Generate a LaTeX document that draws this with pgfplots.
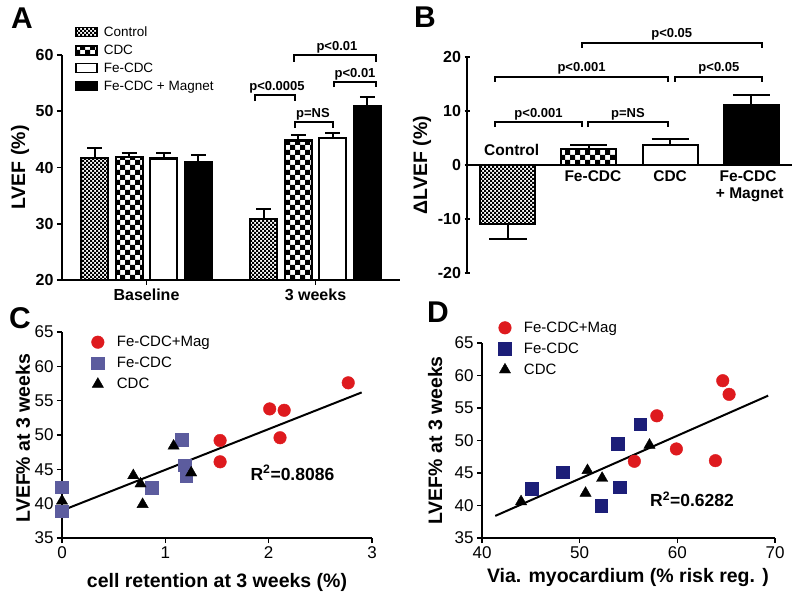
\documentclass[border=0pt]{standalone}
\usepackage{fontspec}
\setmainfont{Liberation Sans}
\usepackage{pgfplots}
\pgfplotsset{compat=1.18}
\usetikzlibrary{patterns}

% fine and coarse checkerboards for the bars
\pgfdeclarepatternformonly{smallchecker}{\pgfqpoint{-.1pt}{-.1pt}}{\pgfqpoint{4.1pt}{4.1pt}}{\pgfqpoint{4pt}{4pt}}{%
  \pgfpathrectangle{\pgfqpoint{0pt}{0pt}}{\pgfqpoint{2.05pt}{2.05pt}}%
  \pgfpathrectangle{\pgfqpoint{2pt}{2pt}}{\pgfqpoint{2.05pt}{2.05pt}}%
  \pgfusepath{fill}}
\pgfdeclarepatternformonly{bigchecker}{\pgfqpoint{-.1pt}{-.1pt}}{\pgfqpoint{10.1pt}{10.1pt}}{\pgfqpoint{10pt}{10pt}}{%
  \pgfpathrectangle{\pgfqpoint{0pt}{0pt}}{\pgfqpoint{5.05pt}{5.05pt}}%
  \pgfpathrectangle{\pgfqpoint{5pt}{5pt}}{\pgfqpoint{5.05pt}{5.05pt}}%
  \pgfusepath{fill}}

\definecolor{magred}{RGB}{222,26,30}
\definecolor{slateC}{RGB}{92,92,158}
\definecolor{navyD}{RGB}{28,30,120}

\newcommand{\tickbold}{\fontsize{16}{19}\selectfont\bfseries}
\newcommand{\ticknorm}{\fontsize{17}{20}\selectfont}
\newcommand{\labfont}{\fontsize{19.5}{22}\selectfont\bfseries}
\newcommand{\pfont}{\fontsize{13}{15}\selectfont\bfseries}

\tikzset{bracket/.style={line width=2pt}}
\pgfplotsset{
  panel/.style={
    scale only axis, axis lines=left,
    axis line style={-, line width=1.6pt},
    every outer x axis line/.append style={-},
    every outer y axis line/.append style={-},
    every inner x axis line/.append style={-},
    tick align=outside, major tick length=5pt,
    tick style={black, line width=1.6pt},
    clip=false,
    /pgf/number format/assume math mode=true,
  },
  eb/.style={error bars/.cd, y dir=plus, y explicit,
    error bar style={line width=2pt, black},
    error mark options={rotate=90, mark size=#1, line width=2pt, black}},
  marklegend/.style={
    legend image code/.code={\draw[mark repeat=1,##1] plot coordinates {(6pt,0pt)};
      \path[draw=none, fill=none] (0pt,0pt) -- (23pt,0pt);}},
}

\begin{document}
\begin{tikzpicture}
\path[use as bounding box] (0pt,0pt) rectangle (800pt,600pt);

% ---------------- A ----------------
\begin{axis}[panel, at={(62pt,320pt)}, anchor=south west,
  width=338pt, height=225pt,
  xmin=-0.5, xmax=1.5, ymin=20, ymax=60,
  ybar=7.5pt, bar width=27pt,
  xtick={0,1}, xticklabels={Baseline,3 weeks},
  ytick={20,30,40,50,60},
  ticklabel style={font=\tickbold},
  ylabel={LVEF (\%)},
  ylabel style={at={(axis description cs:-0.124,0.5)}, anchor=center, font=\labfont},
  legend style={draw=none, fill=none, at={(axis description cs:0.029,1.145)},
    anchor=north west, font=\fontsize{13.5}{16}\selectfont, legend cell align=left,
    row sep=3pt},
  every axis plot post/.append style={legend image code/.code={
    \draw[#1, line width=1.5pt] (0pt,-4.5pt) rectangle (21pt,4.5pt);
    \path[draw=none, fill=none, pattern=none] (0pt,0pt) -- (26pt,0pt);}},
]
\addplot[draw=black, line width=2.2pt, pattern=smallchecker, eb=7.5pt]
  coordinates {(0,41.7) +- (0,1.7) (1,30.9) +- (0,1.7)};
\addplot[draw=black, line width=2.2pt, pattern=bigchecker, eb=7.5pt]
  coordinates {(0,41.8) +- (0,0.8) (1,44.8) +- (0,0.9)};
\addplot[draw=black, line width=2.2pt, fill=white, eb=7.5pt]
  coordinates {(0,41.6) +- (0,1.0) (1,45.2) +- (0,1.0)};
\addplot[draw=black, line width=2.2pt, fill=black, eb=7.5pt]
  coordinates {(0,40.9) +- (0,1.4) (1,51.0) +- (0,1.5)};
\legend{Control, CDC, Fe-CDC, Fe-CDC + Magnet}

\draw[bracket] (axis cs:0.873,58.8) -- (axis cs:0.873,60.0) -- (axis cs:1.358,60.0) -- (axis cs:1.358,58.8);
\node[font=\pfont] at (axis cs:1.127,61.3) {p<0.01};
\draw[bracket] (axis cs:1.109,54.3) -- (axis cs:1.109,55.2) -- (axis cs:1.358,55.2) -- (axis cs:1.358,54.3);
\node[font=\pfont] at (axis cs:1.234,56.5) {p<0.01};
\draw[bracket] (axis cs:0.642,51.8) -- (axis cs:0.642,52.9) -- (axis cs:0.879,52.9) -- (axis cs:0.879,51.8);
\node[font=\pfont] at (axis cs:0.772,54.2) {p<0.0005};
\draw[bracket] (axis cs:0.879,47.0) -- (axis cs:0.879,48.1) -- (axis cs:1.104,48.1) -- (axis cs:1.104,47.0);
\node[font=\pfont] at (axis cs:0.985,49.4) {p=NS};
\end{axis}

% ---------------- B ----------------
\begin{axis}[panel, at={(467pt,327pt)}, anchor=south west,
  width=325pt, height=216pt,
  axis x line=middle, axis y line=left,
  every inner x axis line/.append style={-},
  every outer y axis line/.append style={-},
  x axis line style={-}, y axis line style={-},
  xmin=-0.5, xmax=3.5, ymin=-20, ymax=20,
  ybar, bar width=55pt,
  xtick=\empty, ytick={-20,-10,0,10,20},
  ticklabel style={font=\tickbold},
  ylabel={ΔLVEF (\%)},
  ylabel style={at={(axis description cs:-0.138,0.5)}, anchor=center, font=\labfont},
]
\addplot[bar shift=0pt, draw=black, line width=2.2pt, pattern=smallchecker,
  error bars/.cd, y dir=minus, y explicit,
  error bar style={line width=2pt, black},
  error mark options={rotate=90, mark size=19pt, line width=2pt, black}]
  coordinates {(0,-10.9) +- (0,2.8)};
\addplot[bar shift=0pt, draw=black, line width=2.2pt, pattern=bigchecker, eb=18.5pt]
  coordinates {(1,3.0) +- (0,0.7)};
\addplot[bar shift=0pt, draw=black, line width=2.2pt, fill=white, eb=18.5pt]
  coordinates {(2,3.7) +- (0,1.2)};
\addplot[bar shift=0pt, draw=black, line width=2.2pt, fill=black, eb=18.5pt]
  coordinates {(3,11.1) +- (0,1.8)};

\draw[bracket] (axis cs:-0.155,7.0) -- (axis cs:-0.155,8.0) -- (axis cs:0.915,8.0) -- (axis cs:0.915,7.0);
\node[font=\pfont] at (axis cs:0.38,9.3) {p<0.001};
\draw[bracket] (axis cs:0.989,7.0) -- (axis cs:0.989,8.0) -- (axis cs:1.974,8.0) -- (axis cs:1.974,7.0);
\node[font=\pfont] at (axis cs:1.48,9.3) {p=NS};
\draw[bracket] (axis cs:-0.155,15.4) -- (axis cs:-0.155,16.35) -- (axis cs:1.974,16.35) -- (axis cs:1.974,15.4);
\node[font=\pfont] at (axis cs:0.91,17.9) {p<0.001};
\draw[bracket] (axis cs:2.06,15.4) -- (axis cs:2.06,16.35) -- (axis cs:3.13,16.35) -- (axis cs:3.13,15.4);
\node[font=\pfont] at (axis cs:2.6,17.9) {p<0.05};
\draw[bracket] (axis cs:0.915,21.7) -- (axis cs:0.915,22.65) -- (axis cs:3.13,22.65) -- (axis cs:3.13,21.7);
\node[font=\pfont] at (axis cs:2.02,24.2) {p<0.05};

\node[font=\fontsize{15.5}{18}\selectfont\bfseries] at (axis cs:0.05,2.8) {Control};
\node[font=\fontsize{15.5}{18}\selectfont\bfseries] at (axis cs:1.05,-2.04) {Fe-CDC};
\node[font=\fontsize{15.5}{18}\selectfont\bfseries] at (axis cs:2.0,-2.04) {CDC};
\node[font=\fontsize{15.5}{18}\selectfont\bfseries] at (axis cs:2.96,-2.04) {Fe-CDC};
\node[font=\fontsize{15.5}{18}\selectfont\bfseries] at (axis cs:2.98,-5.56) {+ Magnet};
\end{axis}

% ---------------- C ----------------
\begin{axis}[panel, at={(62pt,62pt)}, anchor=south west,
  width=310pt, height=206pt,
  xmin=0, xmax=3, ymin=35, ymax=65,
  xtick={0,1,2,3}, ytick={35,40,45,50,55,60,65},
  ticklabel style={font=\ticknorm},
  xlabel={cell retention at 3 weeks (\%)},
  ylabel={LVEF\% at 3 weeks},
  xlabel style={at={(axis description cs:0.5,-0.214)}, anchor=center, font=\labfont},
  ylabel style={at={(axis description cs:-0.126,0.485)}, anchor=center, font=\labfont},
  legend style={draw=none, fill=none, at={(axis description cs:0.085,1.0)},
    anchor=north west, font=\fontsize{15}{18}\selectfont, legend cell align=left,
    row sep=5pt},
]
\addplot[only marks, mark=*, mark size=6.3pt, color=magred, marklegend]
  coordinates {(1.53,49.2) (1.53,46.1) (2.01,53.8) (2.11,49.6) (2.15,53.6) (2.77,57.6)};
\addplot[only marks, mark=square*, mark size=6.3pt, color=slateC, marklegend]
  coordinates {(0,42.4) (0,38.9) (0.87,42.3) (1.16,49.3) (1.19,45.6) (1.20,44.0)};
\addplot[only marks, mark=triangle*, mark size=6.5pt, color=black, marklegend]
  coordinates {(0,40.4) (0.69,44.1) (0.76,42.9) (0.78,39.9) (1.08,48.4) (1.25,44.5)};
\addplot[forget plot, black, line width=2pt] coordinates {(0,39.0) (2.90,56.2)};
\legend{Fe-CDC+Mag, Fe-CDC, CDC}
\node[font=\fontsize{17.5}{20}\selectfont\bfseries] at (axis cs:2.23,44.5) {R\textsuperscript{2}=0.8086};
\end{axis}

% ---------------- D ----------------
\begin{axis}[panel, at={(482pt,62pt)}, anchor=south west,
  width=293pt, height=195pt,
  xmin=40, xmax=70, ymin=35, ymax=65,
  xtick={40,50,60,70}, ytick={35,40,45,50,55,60,65},
  ticklabel style={font=\ticknorm},
  xlabel={Via. myocardium (\% risk reg. )},
  ylabel={LVEF\% at 3 weeks},
  xlabel style={at={(axis description cs:0.498,-0.205)}, anchor=center, font=\labfont},
  ylabel style={at={(axis description cs:-0.16,0.5)}, anchor=center, font=\labfont},
  legend style={draw=none, fill=none, at={(axis description cs:0.046,1.13)},
    anchor=north west, font=\fontsize{15}{18}\selectfont, legend cell align=left,
    row sep=5pt},
]
\addplot[only marks, mark=*, mark size=6.3pt, color=magred, marklegend]
  coordinates {(57.9,53.8) (55.6,46.8) (59.9,48.7) (63.9,46.9) (64.65,59.2) (65.3,57.1)};
\addplot[only marks, mark=square*, mark size=6.3pt, color=navyD, marklegend]
  coordinates {(45.1,42.6) (48.25,45.15) (53.9,49.5) (56.2,52.5) (54.1,42.8) (52.2,40.0)};
\addplot[only marks, mark=triangle*, mark size=6.5pt, color=black, marklegend]
  coordinates {(44.0,40.6) (50.8,45.4) (50.6,41.9) (52.3,44.2) (57.15,49.3)};
\addplot[forget plot, black, line width=2pt] coordinates {(41.36,38.4) (69.3,56.9)};
\legend{Fe-CDC+Mag, Fe-CDC, CDC}
\node[font=\fontsize{17.5}{20}\selectfont\bfseries] at (axis cs:61.5,41.0) {R\textsuperscript{2}=0.6282};
\end{axis}

% panel letters
\node[font=\fontsize{30}{32}\selectfont\bfseries] at (22pt,582pt) {A};
\node[font=\fontsize{30}{32}\selectfont\bfseries] at (425pt,583pt) {B};
\node[font=\fontsize{30}{32}\selectfont\bfseries] at (20pt,282pt) {C};
\node[font=\fontsize{30}{32}\selectfont\bfseries] at (438pt,288pt) {D};
\end{tikzpicture}
\end{document}
